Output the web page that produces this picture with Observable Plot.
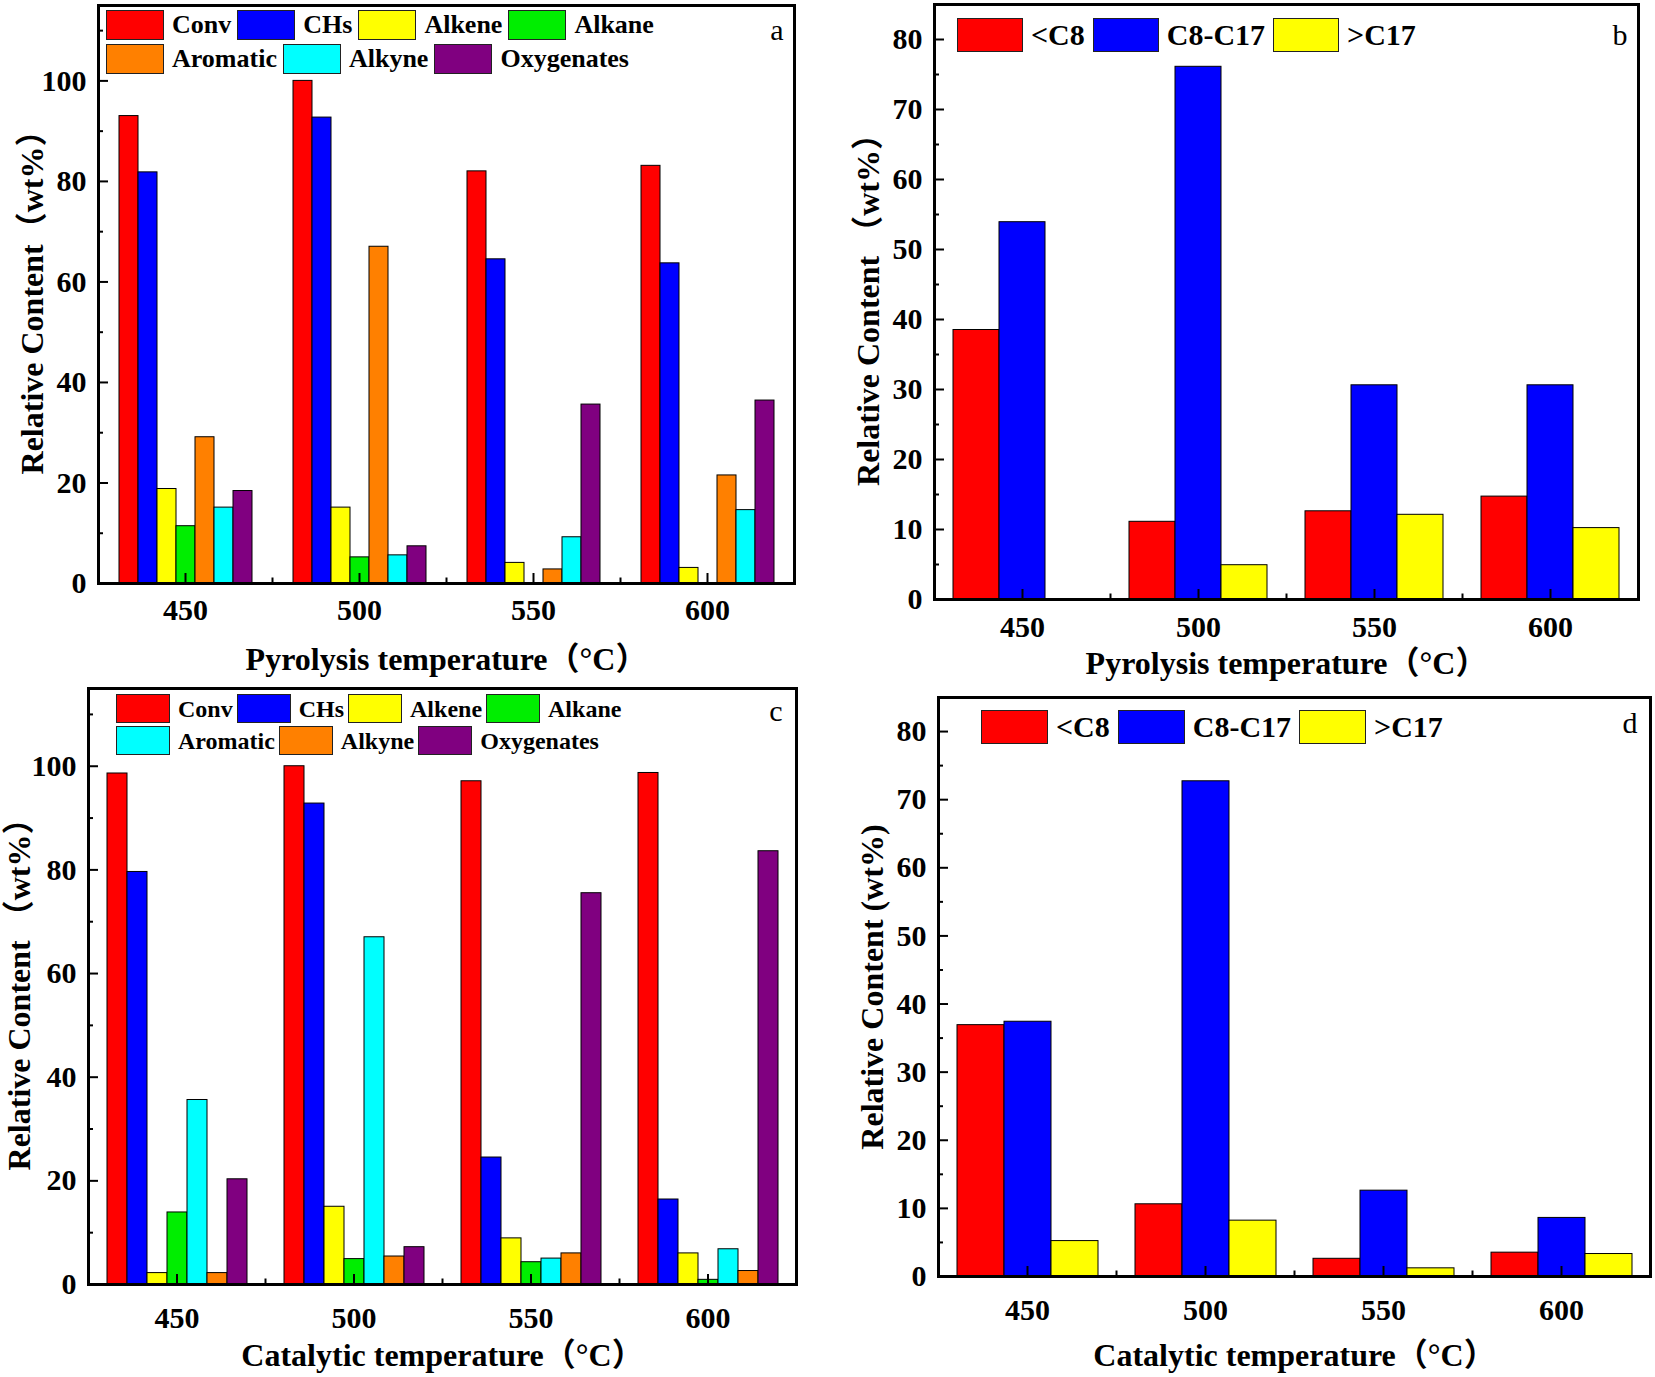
<!DOCTYPE html>
<html>
<head>
<meta charset="utf-8">
<script src="https://cdn.jsdelivr.net/npm/d3@7"></script>
<script src="https://cdn.jsdelivr.net/npm/@observablehq/plot@0.6"></script>
<style>
  html, body { margin: 0; padding: 0; background: #fff; }
  #root { position: relative; width: 1655px; height: 1377px; overflow: hidden; background: #fff; }
  .panel { position: absolute; }
  .legend-row { position: absolute; display: flex; align-items: center; white-space: nowrap;
    font-family: "Liberation Serif", "Times New Roman", serif; font-weight: bold; color: #000; line-height: 1; }
  .sw { box-sizing: border-box; border: 1.5px solid #222; display: inline-block; }
  g[aria-label="fx-axis label"], g[aria-label="y-axis label"] { font-size: 32px; }
</style>
</head>
<body>
<div id="root"></div>
<script>
// ---------- data ----------
const temps = [450, 500, 550, 600];

const compA = ["Conv", "CHs", "Alkene", "Alkane", "Aromatic", "Alkyne", "Oxygenates"];
const colorsA = ["#ff0000", "#0000ff", "#ffff00", "#00ee00", "#ff8000", "#00ffff", "#800080"];
// rows follow compA, columns follow temps (pyrolysis temperature)
const pyroComposition = [
  [93.0, 100.0, 82.0, 83.1],
  [81.8, 92.7, 64.5, 63.7],
  [18.8, 15.1, 4.1, 3.1],
  [11.4, 5.2, 0, 0],
  [29.1, 67.0, 2.8, 21.5],
  [15.1, 5.6, 9.2, 14.6],
  [18.4, 7.4, 35.6, 36.4]
];

const compC = ["Conv", "CHs", "Alkene", "Alkane", "Aromatic", "Alkyne", "Oxygenates"];
const colorsC = ["#ff0000", "#0000ff", "#ffff00", "#00ee00", "#00ffff", "#ff8000", "#800080"];
// rows follow compC, columns follow temps (catalytic temperature)
const catComposition = [
  [98.6, 100.0, 97.1, 98.7],
  [79.6, 92.8, 24.5, 16.4],
  [2.2, 15.0, 8.9, 6.0],
  [13.9, 4.9, 4.3, 0.9],
  [35.6, 67.0, 5.0, 6.8],
  [2.2, 5.4, 6.0, 2.6],
  [20.3, 7.2, 75.5, 83.6]
];

const carbonRanges = ["<C8", "C8-C17", ">C17"];
const colorsCarbon = ["#ff0000", "#0000ff", "#ffff00"];
const pyroCarbon = [
  [38.5, 11.1, 12.6, 14.7],
  [53.9, 76.1, 30.6, 30.6],
  [0, 4.9, 12.1, 10.2]
];
const catCarbon = [
  [36.9, 10.6, 2.6, 3.5],
  [37.4, 72.7, 12.6, 8.6],
  [5.2, 8.2, 1.2, 3.3]
];

const majorA = [0, 20, 40, 60, 80, 100];
const minorA = [10, 30, 50, 70, 90, 110];
const majorB = [0, 10, 20, 30, 40, 50, 60, 70, 80];
const minorB = [5, 15, 25, 35, 45, 55, 65, 75];

// ---------- drawing ----------
const FONT = '"Liberation Serif", "Times New Roman", "Noto Sans CJK SC", serif';

function panel(cfg) {
  const data = [];
  cfg.series.forEach((s, i) => cfg.values[i].forEach((v, j) => {
    if (v > 0) data.push({temp: temps[j], series: s, value: v});
  }));
  const n = cfg.series.length;
  const padOuter = (n / 0.8 - n) / 2; // bars fill 80% of each group
  const frameH = cfg.height - cfg.marginTop - cfg.marginBottom;

  const chart = Plot.plot({
    width: cfg.width,
    height: cfg.height,
    marginTop: cfg.marginTop,
    marginRight: cfg.marginRight,
    marginBottom: cfg.marginBottom,
    marginLeft: cfg.marginLeft,
    style: {fontFamily: FONT, fontSize: "30px", fontWeight: "bold", color: "#000", background: "transparent", overflow: "visible"},
    fx: {domain: temps, padding: 0},
    x: {domain: cfg.series, paddingInner: 0, paddingOuter: padOuter, axis: null},
    y: {domain: [0, cfg.yMax]},
    color: {domain: cfg.series, range: cfg.colors},
    marks: [
      Plot.barY(data, {fx: "temp", x: "series", y: "value", fill: "series", stroke: "#000", strokeWidth: 1}),
      Plot.axisY({ticks: cfg.major, tickSize: -10, tickPadding: 22, strokeWidth: 2,
        label: cfg.yLabel, labelAnchor: "center", labelArrow: "none", labelOffset: cfg.yLabelOffset}),
      Plot.axisY({ticks: cfg.minor, tickSize: -5, strokeWidth: 2, tickFormat: () => "", label: null}),
      Plot.axisFx({anchor: "bottom", tickSize: -10, tickPadding: cfg.fxPad, strokeWidth: 2,
        label: cfg.xLabel, labelAnchor: "center", labelArrow: "none", labelOffset: cfg.xLabelOffset}),
      Plot.frame({anchor: "left", insetTop: frameH - 5, strokeWidth: 2}),
      Plot.frame({anchor: "top", strokeWidth: 3}),
      Plot.frame({anchor: "bottom", strokeWidth: 3}),
      Plot.frame({anchor: "left", facetAnchor: "left", strokeWidth: 3}),
      Plot.frame({anchor: "right", facetAnchor: "right", strokeWidth: 3}),
      Plot.text([cfg.letter], {frameAnchor: "top-right", facetAnchor: "right", textAnchor: "end", lineAnchor: "top",
        dx: cfg.letterDx, dy: cfg.letterDy, fontWeight: "normal", fontSize: 30})
    ]
  });

  const div = document.createElement("div");
  div.className = "panel";
  div.style.left = cfg.left + "px";
  div.style.top = cfg.top + "px";
  div.style.width = cfg.width + "px";
  div.style.height = cfg.height + "px";
  div.appendChild(chart);

  // legend inside the frame
  const L = cfg.legend;
  L.rows.forEach((row, r) => {
    const rowDiv = document.createElement("div");
    rowDiv.className = "legend-row";
    rowDiv.style.left = L.left + "px";
    rowDiv.style.top = (L.top + r * L.pitch) + "px";
    rowDiv.style.fontSize = L.font + "px";
    row.forEach(name => {
      const i = cfg.series.indexOf(name);
      const sw = document.createElement("span");
      sw.className = "sw";
      sw.style.width = L.sw + "px";
      sw.style.height = L.sh + "px";
      sw.style.background = cfg.colors[i];
      sw.style.marginRight = "8px";
      const t = document.createElement("span");
      t.textContent = name;
      t.style.marginRight = (L.gap ?? 8) + "px";
      rowDiv.appendChild(sw);
      rowDiv.appendChild(t);
    });
    div.appendChild(rowDiv);
  });

  document.getElementById("root").appendChild(div);
}

panel({
  left: 0, top: 0, width: 827, height: 690,
  marginTop: 5, marginRight: 33, marginBottom: 107, marginLeft: 97,
  series: compA, colors: colorsA, values: pyroComposition,
  yMax: 115, major: majorA, minor: minorA,
  yLabel: "Relative Content（wt%）", yLabelOffset: 78,
  xLabel: "Pyrolysis temperature（°C）", xLabelOffset: 86, fxPad: 25,
  letter: "a", letterDx: -11, letterDy: 13,
  legend: {left: 106, top: 10, pitch: 34, sw: 58, sh: 30, font: 26, gap: 6,
    rows: [["Conv", "CHs", "Alkene", "Alkane"], ["Aromatic", "Alkyne", "Oxygenates"]]}
});

panel({
  left: 827, top: 0, width: 828, height: 690,
  marginTop: 4, marginRight: 16, marginBottom: 91, marginLeft: 105,
  series: carbonRanges, colors: colorsCarbon, values: pyroCarbon,
  yMax: 85, major: majorB, minor: minorB,
  yLabel: "Relative Content （wt%）", yLabelOffset: 78,
  xLabel: "Pyrolysis temperature（°C）", xLabelOffset: 74, fxPad: 26,
  letter: "b", letterDx: -11, letterDy: 19,
  legend: {left: 130, top: 18, pitch: 34, sw: 66, sh: 34, font: 30,
    rows: [["<C8", "C8-C17", ">C17"]]}
});

panel({
  left: 0, top: 680, width: 827, height: 697,
  marginTop: 8, marginRight: 31, marginBottom: 93, marginLeft: 87,
  series: compC, colors: colorsC, values: catComposition,
  yMax: 115, major: majorA, minor: minorA,
  yLabel: "Relative Content （wt%）", yLabelOffset: 81,
  xLabel: "Catalytic temperature（°C）", xLabelOffset: 81, fxPad: 32,
  letter: "c", letterDx: -14, letterDy: 11,
  legend: {left: 116, top: 14, pitch: 32, sw: 54, sh: 29, font: 24, gap: 4,
    rows: [["Conv", "CHs", "Alkene", "Alkane"], ["Aromatic", "Alkyne", "Oxygenates"]]}
});

panel({
  left: 827, top: 680, width: 828, height: 697,
  marginTop: 17, marginRight: 4, marginBottom: 101, marginLeft: 110,
  series: carbonRanges, colors: colorsCarbon, values: catCarbon,
  yMax: 85, major: majorB, minor: minorB,
  yLabel: "Relative Content (wt%)", yLabelOffset: 78,
  xLabel: "Catalytic temperature（°C）", xLabelOffset: 89, fxPad: 32,
  letter: "d", letterDx: -13, letterDy: 14,
  legend: {left: 154, top: 30, pitch: 34, sw: 67, sh: 34, font: 30,
    rows: [["<C8", "C8-C17", ">C17"]]}
});
</script>
</body>
</html>
